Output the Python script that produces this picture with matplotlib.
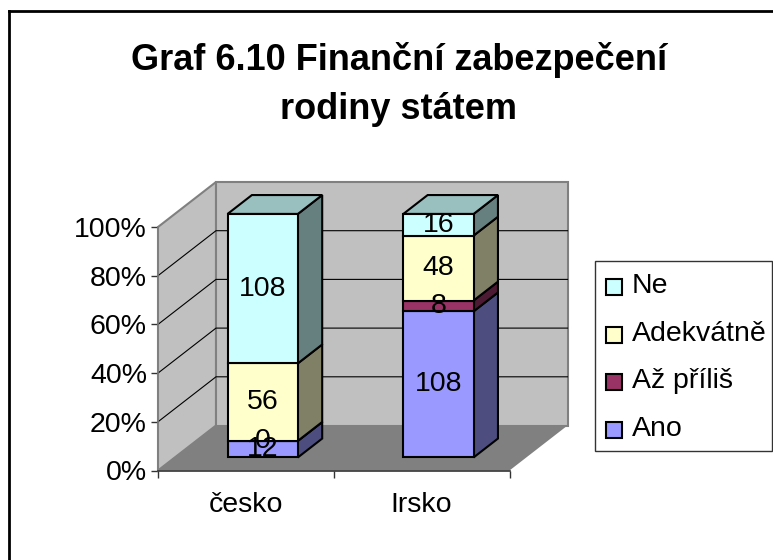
import matplotlib
matplotlib.use('Agg')
import matplotlib.pyplot as plt
from matplotlib.patches import Polygon, Rectangle

# --- Data ---
categories = ['česko', 'Irsko']
series_names = ['Ano', 'Až příliš', 'Adekvátně', 'Ne']
ano = [12, 108]
az_prilis = [0, 8]
adekvatne = [56, 48]
ne = [108, 16]
y_ticks = [0, 20, 40, 60, 80, 100]

# --- Colours ---
FACE = ['#9999FF', '#993366', '#FFFFCC', '#CCFFFF']
SIDE = ['#4D4D80', '#4D1A33', '#808066', '#668080']
TOP = ['#7373BF', '#73264D', '#BFBF99', '#99BFBF']
WALL = '#C0C0C0'
FLOOR = '#808080'
WALL_EDGE = '#808080'

# --- Layout (pixels of the 773x560 image) ---
W, H = 773, 560
LEFT, RIGHT, BOTTOM, TOP_PX = 158, 509.5, 470.5, 227
DEPTH_DX, DEPTH_DY = 58, 45
BAR_WIDTH = 0.4
BAR_FRONT, BAR_BACK = 0.29, 0.71
FONT = 20.5

fig = plt.figure(figsize=(W / 100, H / 100), dpi=100, facecolor='white')
plt.rcParams['font.family'] = ['Liberation Sans', 'DejaVu Sans']

ax = fig.add_axes([LEFT / W, 1 - BOTTOM / H, (RIGHT - LEFT) / W, (BOTTOM - TOP_PX) / H])
ax.set_xlim(0, len(categories))
ax.set_ylim(0, 100)
ax.patch.set_visible(False)
for spine in ax.spines.values():
    spine.set_visible(False)

# one unit of depth in data units
sx = DEPTH_DX / ((RIGHT - LEFT) / len(categories))
sy = DEPTH_DY / ((BOTTOM - TOP_PX) / 100)


def project(x, y, d):
    return (x + d * sx, y + d * sy)


def poly(points, face, edge='none', lw=0.0, z=1):
    ax.add_patch(Polygon(points, closed=True, facecolor=face, edgecolor=edge,
                         linewidth=lw, zorder=z, clip_on=False, joinstyle='miter'))


n = len(categories)
# walls and floor
poly([project(0, 0, 0), project(0, 100, 0), project(0, 100, 1), project(0, 0, 1)], WALL, WALL_EDGE, 1.5, 1)
poly([project(0, 0, 1), project(0, 100, 1), project(n, 100, 1), project(n, 0, 1)], WALL, WALL_EDGE, 1.5, 1)
poly([project(0, 0, 0), project(0, 0, 1), project(n, 0, 1), project(n, 0, 0)], FLOOR, 'none', 0, 2)

# gridlines
for t in y_ticks[1:-1]:
    x0, y0 = project(0, t, 0)
    x1, y1 = project(0, t, 1)
    x2, y2 = project(n, t, 1)
    ax.plot([x0, x1, x2], [y0, y1, y2], color='black', lw=0.8, zorder=3, clip_on=False)

# stacked bars
stack = [ano, az_prilis, adekvatne, ne]
for i in range(n):
    total = sum(s[i] for s in stack)
    xl = i + 0.5 - BAR_WIDTH / 2
    xr = i + 0.5 + BAR_WIDTH / 2
    base = 0.0
    for j, s in enumerate(stack):
        h = 100.0 * s[i] / total
        top = base + h
        poly([project(xr, base, BAR_FRONT), project(xr, top, BAR_FRONT),
              project(xr, top, BAR_BACK), project(xr, base, BAR_BACK)], SIDE[j], 'black', 1.5, 5)
        poly([project(xl, base, BAR_FRONT), project(xr, base, BAR_FRONT),
              project(xr, top, BAR_FRONT), project(xl, top, BAR_FRONT)], FACE[j], 'black', 1.5, 6)
        if j == len(stack) - 1:
            poly([project(xl, top, BAR_FRONT), project(xr, top, BAR_FRONT),
                  project(xr, top, BAR_BACK), project(xl, top, BAR_BACK)], TOP[j], 'black', 1.5, 5)
        lx, ly = project(i + 0.5, base + h / 2, BAR_FRONT)
        ax.text(lx, ly, str(s[i]), ha='center', va='center', fontsize=FONT, color='black',
                zorder=8, clip_on=False)
        base = top

# axes ticks and labels
ax.set_xticks(range(n + 1))
ax.set_xticklabels([])
ax.set_yticks(y_ticks)
ax.set_yticklabels([f'{t}%' for t in y_ticks], fontsize=FONT)
ax.tick_params(axis='y', length=5, width=1, color='#333333', pad=3)
ax.tick_params(axis='x', length=5, width=1, color='#333333')
ax.plot([0, 0], [0, 100], color='#808080', lw=1.2, zorder=4, clip_on=False)
ax.plot([0, n], [0, 0], color='#333333', lw=1.2, zorder=4, clip_on=False)
for i, c in enumerate(categories):
    ax.text(i + 0.5, -14.3, c, ha='center', va='center', fontsize=FONT)

# title
fig.text(399 / W, 1 - 60.5 / H, 'Graf 6.10 Finanční zabezpečení', ha='center', va='center',
         fontsize=26, fontweight='bold')
fig.text(399 / W, 1 - 109.5 / H, 'rodiny státem', ha='center', va='center',
         fontsize=26, fontweight='bold')

# frame: only the top and left edges fall inside the image
fig.add_artist(plt.Line2D([8.5 / W, 8.5 / W], [0, 1 - 10.5 / H], color='black', lw=2))
fig.add_artist(plt.Line2D([8.5 / W, 1], [1 - 10.5 / H, 1 - 10.5 / H], color='black', lw=2))

# legend drawn on the figure, top entry = last series
fig.add_artist(Rectangle((595 / W, 1 - 450.5 / H), 177 / W, 189.5 / H, transform=fig.transFigure,
                         facecolor='white', edgecolor='#333333', linewidth=1))
legend_y = [286, 334, 381, 429]
for k, j in enumerate(reversed(range(len(series_names)))):
    y = legend_y[k]
    fig.add_artist(Rectangle((606 / W, 1 - (y + 8.5) / H), 15.5 / W, 15.5 / H, transform=fig.transFigure,
                             facecolor=FACE[j], edgecolor='black', linewidth=1.5))
    fig.text(632 / W, 1 - y / H, series_names[j], ha='left', va='center', fontsize=FONT)

fig.savefig('out.png', dpi=100)
